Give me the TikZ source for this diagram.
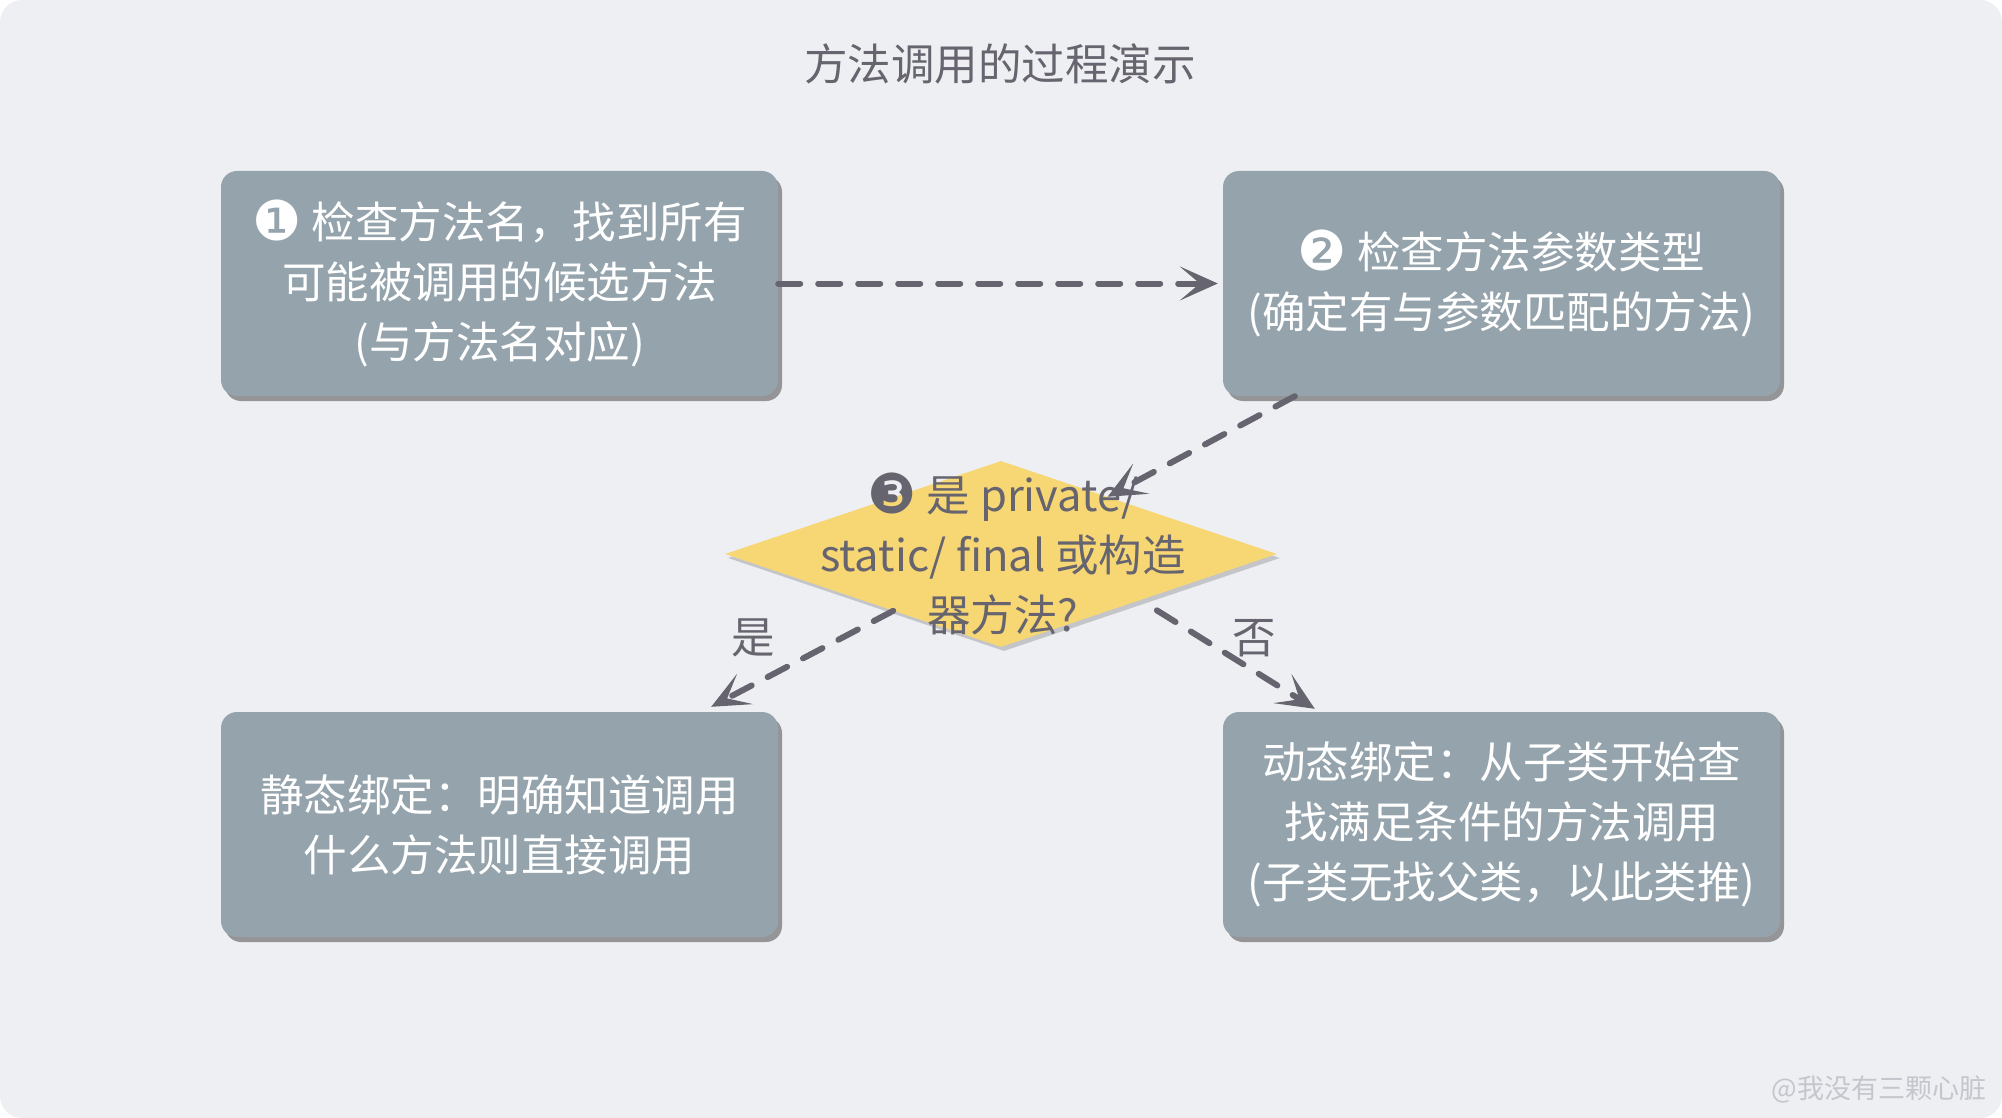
\documentclass[tikz,border=0pt]{standalone}
\usepackage{fontspec}
\setmainfont{Noto Sans CJK SC}
\newfontfamily\dingfont{DejaVu Sans}
\usepackage{tikz}
\usetikzlibrary{arrows.meta,shapes.geometric,shadows}
\definecolor{bgcol}{HTML}{EEEFF3}
\definecolor{boxcol}{HTML}{95A4AC}
\definecolor{inkcol}{HTML}{66646E}
\definecolor{diacol}{HTML}{F7D674}
\definecolor{wmcol}{HTML}{C3C6CC}
\newcommand{\numcirc}[1]{{\dingfont\fontsize{55}{60}\selectfont\raisebox{-2pt}{#1}}}

\begin{document}
\begin{tikzpicture}[x=1pt, y=-1pt,
    bigtext/.style={font=\fontsize{43.5}{60}\selectfont},
    stepbox/.style={bigtext, fill=boxcol, rounded corners=16pt, align=center, text=white,
        minimum width=557pt, minimum height=225pt,
        drop shadow={shadow xshift=4pt, shadow yshift=-5pt, opacity=0.55, fill=black!70}},
    flow/.style={draw=inkcol, line width=6pt, line cap=round, dash pattern=on 22pt off 18pt,
        -{Stealth[length=38pt, width=34pt, inset=20pt]}}]
    \useasboundingbox (0,0) rectangle (2002,1118);
    \fill[bgcol, rounded corners=22pt] (0,0) rectangle (2002,1118);
    \node[bigtext, text=inkcol] (title) at (1000,64) {方法调用的过程演示};
    % the four steps
    \node[stepbox] (b1) at (499.5,283.5) {\numcirc{❶} 检查方法名，找到所有\\可能被调用的候选方法\\(与方法名对应)};
    \node[stepbox] (b2) at (1501.5,283.5) {\numcirc{❷} 检查方法参数类型\\(确定有与参数匹配的方法)};
    \node[stepbox] (b3) at (499.5,824.5) {静态绑定：明确知道调用\\什么方法则直接调用};
    \node[stepbox] (b4) at (1501.5,824.5) {动态绑定：从子类开始查\\找满足条件的方法调用\\(子类无找父类，以此类推)};
    % decision
    \node[diamond, fill=diacol, minimum width=552pt, minimum height=186pt, inner sep=0pt,
        drop shadow={shadow xshift=3pt, shadow yshift=-4pt, opacity=0.3, fill=black!60}] (dia) at (1001,554) {};
    \node[bigtext, text=inkcol, align=center] (diatxt) at (1003,554) {\numcirc{❸} 是 private/\\static/ final 或构造\\器方法?};
    \node[bigtext, text=inkcol] (yes) at (753,638) {是};
    \node[bigtext, text=inkcol] (no) at (1254,638) {否};
    \draw[flow] (b1.east) -- ([xshift=-5pt]b2.west);
    \draw[flow] ([xshift=72pt]b2.south west) -- (dia);
    \draw[flow] (dia) -- ([xshift=-67pt, yshift=5pt]b3.north east);
    \draw[flow] ([xshift=23pt, yshift=-8pt]dia.-20) -- ([xshift=92pt, yshift=3pt]b4.north west);
    \node[text=wmcol, font=\fontsize{27}{30}\selectfont, anchor=east] (wm) at (1990,1089) {@我没有三颗心脏};
\end{tikzpicture}
\end{document}
